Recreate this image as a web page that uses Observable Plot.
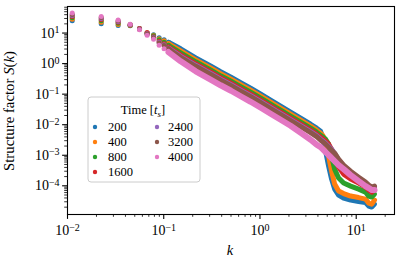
<!DOCTYPE html>
<html><head><meta charset="utf-8">
<script src="https://cdn.jsdelivr.net/npm/d3@7"></script>
<script src="https://cdn.jsdelivr.net/npm/@observablehq/plot@0.6"></script>
<style>body{margin:0;background:#fff}#chart{width:399px;height:262px}</style>
</head><body><div id="chart"></div>
<script>
// Series (legend) labels and colours
const times = ["200","400","800","1600","2400","3200","4000"];
const colors = ["#1f77b4","#ff7f0e","#2ca02c","#d62728","#9467bd","#8c564b","#e377c2"];
// wavenumbers k (shared)
const k = [0.0112,0.0224,0.0336,0.0448,0.056,0.0672,0.0784,0.0896,0.1008,0.112,
  0.15,0.215,0.31,0.39,0.5,0.63,0.8,1.02,1.29,1.64,2.08,2.65,3.36,3.88,
  4.27,4.48,4.81,5.17,5.55,5.97,6.56,7.4,8.75,10.6,12.5,13.5,14.5,15.5];
// Structure factor S(k) per time
const s200 = [25.1,20.0,17.8,17.3,14.2,10.3,8.73,6.97,5.99,4.97,
  3.05,1.547,0.816,0.540,0.357,0.236,0.156,0.0993,0.0632,0.0402,0.0256,0.0163,0.01038,0.00768,
  0.00613,0.00390,0.00136,0.000440,0.000166,0.0000780,0.0000497,0.0000396,0.0000341,0.0000305,0.0000282,0.0000217,0.0000201,0.0000252];
const s400 = [28.1,22.4,19.2,17.7,14.2,10.2,8.54,6.56,5.56,4.5,
  2.62,1.331,0.702,0.464,0.307,0.203,0.134,0.0854,0.0544,0.0346,0.0220,0.01403,0.00893,0.00661,
  0.00528,0.00454,0.00289,0.000935,0.000302,0.0001137,0.0000671,0.0000556,0.0000461,0.0000412,0.0000368,0.0000272,0.0000252,0.0000341];
const s800 = [31.4,25.1,20.8,18.1,13.9,9.93,8.10,5.99,4.97,3.96,
  2.25,1.145,0.604,0.399,0.264,0.1745,0.1154,0.0735,0.0468,0.0298,0.0190,0.01207,0.00768,0.00569,
  0.00454,0.00405,0.00336,0.00231,0.000935,0.000351,0.000179,0.000123,0.0000978,0.0000780,0.0000622,0.0000461,0.0000427,0.0000536];
const s1600 = [35.1,27.6,22.4,18.4,14.0,10.2,7.63,5.36,4.44,3.49,
  1.94,0.985,0.520,0.344,0.227,0.150,0.0993,0.0632,0.0402,0.0256,0.0163,0.01038,0.00661,0.00489,
  0.00390,0.00349,0.00289,0.00231,0.00158,0.000867,0.000408,0.000241,0.000166,0.000123,0.0000907,0.0000724,0.0000622,0.0000724];
const s2400 = [37.9,29.8,23.8,18.7,13.6,9.42,7.23,4.97,4.12,3.21,
  1.73,0.880,0.464,0.307,0.203,0.134,0.0887,0.0564,0.0359,0.0229,0.01457,0.00927,0.00590,0.00437,
  0.00336,0.00300,0.00249,0.00198,0.00158,0.00117,0.000692,0.000440,0.000280,0.000179,0.000123,0.0000978,0.0000841,0.0000907];
const s3200 = [40.8,32.1,25.1,19.0,13.4,9.2,6.97,4.71,3.88,3.05,
  1.61,0.816,0.431,0.285,0.188,0.1244,0.0822,0.0524,0.0333,0.0212,0.0135,0.00860,0.00548,0.00405,
  0.00311,0.00278,0.00231,0.00184,0.00147,0.00117,0.000746,0.000475,0.000302,0.000192,0.000132,0.0001054,0.0000907,0.0000978];
const s4000 = [45.7,35.1,27.0,19.5,12.9,8.41,6.22,3.96,3.05,2.39,
  1.189,0.560,0.2955,0.1953,0.1291,0.0854,0.0564,0.0359,0.0229,0.01457,0.00927,0.00548,0.00323,0.00222,
  0.00184,0.00158,0.00126,0.001008,0.000804,0.000642,0.000475,0.000351,0.000224,0.000142,0.0000978,0.0000841,0.0000724,0.0000724];
// Axis ticks
const xMajor = [0.01,0.1,1,10];
const yMajor = [1e-4,1e-3,1e-2,1e-1,1,10];

const allS = [s200,s400,s800,s1600,s2400,s3200,s4000];
const minor = (lo, hi, from, to) => { const out=[]; for(let e=from;e<=to;e++) for(let m=2;m<=9;m++){const v=m*Math.pow(10,e); if(v>=lo&&v<=hi) out.push(v);} return out; };
const xDom = [0.01, 25], yDom = [1.15e-5, 74];
const xMinor = minor(xDom[0], xDom[1], -2, 1);
const yMinor = minor(yDom[0], yDom[1], -5, 1);

const marks = [];
times.forEach((t, i) => {
  const d = k.map((kv, j) => ({t, k: kv, S: allS[i][j]}));
  marks.push(Plot.line(d.filter(r => r.k >= 0.11), {x: "k", y: "S", stroke: "t", strokeWidth: i === 6 ? 6 : 5}));
  marks.push(Plot.dot(d.filter(r => r.k <= 0.113), {x: "k", y: "S", fill: "t", r: 2.5}));
});
const expFmt = d => String(Math.round(Math.log10(d)));
marks.push(
  Plot.axisX({ticks: xMinor, tickSize: 2.8, strokeWidth: 0.8, tickFormat: () => "", label: null}),
  Plot.axisY({ticks: yMinor, tickSize: 2.8, strokeWidth: 0.8, tickFormat: () => "", label: null}),
  Plot.axisX({ticks: xMajor, tickSize: 4.9, strokeWidth: 1.1, tickPadding: 6, tickFormat: expFmt, fontSize: 14, label: null}),
  Plot.axisY({ticks: yMajor, tickSize: 4.9, strokeWidth: 1.1, tickPadding: 3, tickFormat: expFmt, fontSize: 14, label: null}),
  Plot.frame({stroke: "black", strokeWidth: 1.1})
);

const chart = Plot.plot({
  width: 399, height: 262,
  marginLeft: 67, marginRight: 5, marginTop: 6, marginBottom: 48,
  style: {fontFamily: "'Liberation Serif', serif", fontSize: "14px", background: "white", color: "black"},
  x: {type: "log", domain: xDom},
  y: {type: "log", domain: yDom},
  color: {type: "ordinal", domain: times, range: colors},
  marks
});
document.getElementById("chart").appendChild(chart);

const svg = d3.select(chart);
// superscript tick labels: 10^e
svg.selectAll('g[aria-label="x-axis tick label"] text, g[aria-label="y-axis tick label"] text').each(function() {
  const e = this.textContent;
  if (!e) return;
  const t = d3.select(this);
  t.text(null);
  t.append("tspan").text("10");
  t.append("tspan").attr("dy", "-0.45em").attr("font-size", "10px").text(e.replace("-", "\u2212"));
});
// axis labels
const yl = svg.append("text").attr("transform", "translate(14,111) rotate(-90)")
  .attr("text-anchor", "middle").attr("font-size", 14.8).attr("fill", "black");
yl.append("tspan").text("Structure factor ");
yl.append("tspan").attr("font-style", "italic").text("S");
yl.append("tspan").text("(");
yl.append("tspan").attr("font-style", "italic").text("k");
yl.append("tspan").text(")");
svg.append("text").attr("x", 230).attr("y", 255).attr("text-anchor", "middle")
  .attr("font-size", 14.5).attr("font-style", "italic").attr("fill", "black").text("k");
// legend
const lg = svg.append("g").attr("font-size", 12.5).attr("fill", "black").attr("text-anchor", "start");
lg.append("rect").attr("x", 88).attr("y", 97).attr("width", 112).attr("height", 85).attr("rx", 3)
  .attr("fill", "white").attr("fill-opacity", 0.8).attr("stroke", "#cccccc").attr("stroke-width", 1);
const tt = lg.append("text").attr("x", 143).attr("y", 114).attr("text-anchor", "middle");
tt.append("tspan").text("Time [");
tt.append("tspan").attr("font-style", "italic").text("t");
tt.append("tspan").attr("font-style", "italic").attr("font-size", 9).attr("dy", 2.5).text("s");
tt.append("tspan").attr("dy", -2.5).text("]");
times.forEach((t, i) => {
  const col = i < 4 ? 0 : 1, row = i < 4 ? i : i - 4;
  const cy = 127 + row * 15;
  lg.append("circle").attr("cx", col ? 157 : 95).attr("cy", cy).attr("r", 2.2).attr("fill", colors[i]);
  lg.append("text").attr("x", col ? 168 : 108).attr("y", cy + 4.3).attr("text-anchor", "start").text(t);
});
</script></body></html>
